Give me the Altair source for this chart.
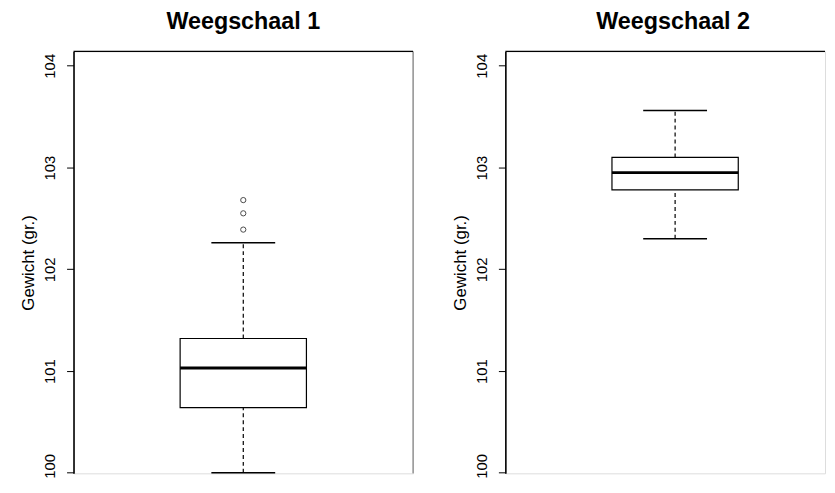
import altair as alt
import pandas as pd

# ---- data ----
scales = ["Weegschaal 1", "Weegschaal 2"]
lower_whisker = [100.00, 102.30]
q1 = [100.64, 102.78]
median = [101.03, 102.95]
q3 = [101.32, 103.10]
upper_whisker = [102.26, 103.56]
outliers_scale1 = [102.39, 102.55, 102.68]
y_ticks = [100, 101, 102, 103, 104]

FONT = "Liberation Sans"
Y_DOMAIN = [99.995, 104.141]
H = 425
W1 = 342
W2 = 322

stats = pd.DataFrame({
    "scale": scales, "lo": lower_whisker, "q1": q1, "med": median,
    "q3": q3, "hi": upper_whisker,
})
outl = pd.DataFrame({"scale": ["Weegschaal 1"] * len(outliers_scale1),
                     "v": outliers_scale1})


def panel(name, width, title_dx):
    xdom = [0, width / W1]
    xs = alt.Scale(domain=xdom, nice=False, zero=False, padding=0)
    ys = alt.Scale(domain=Y_DOMAIN, nice=False, zero=False, padding=0)
    yaxis = alt.Axis(values=y_ticks, format="d", title="Gewicht (gr.)",
                     labelAngle=270, labelAlign="center", labelBaseline="bottom",
                     labelOffset={"condition": {"test": "datum.value == 100", "value": -7},
                                  "value": 0},
                     labelFont=FONT, labelFontSize=15, labelColor="black",
                     labelPadding=9, tickSize=7, tickColor="black", tickWidth=1,
                     domainColor="black", domainWidth=1.6, grid=False,
                     titleFont=FONT, titleFontSize=17, titleFontWeight="normal",
                     titleColor="black", titlePadding=5)
    base = alt.Chart(stats).transform_filter(alt.datum.scale == name).transform_calculate(
        xc="0.5", xl="0.5 - 0.186", xr="0.5 + 0.186", cl="0.5 - 0.094", cr="0.5 + 0.094"
    )
    box = base.mark_rect(fill="white", stroke="black", strokeWidth=1.2).encode(
        x=alt.X("xl:Q", scale=xs, axis=None), x2="xr:Q",
        y=alt.Y("q1:Q", scale=ys, axis=yaxis), y2="q3:Q")
    med = base.mark_rule(color="black", strokeWidth=3).encode(
        x=alt.X("xl:Q", scale=xs, axis=None), x2="xr:Q",
        y=alt.Y("med:Q", scale=ys, axis=yaxis))
    wh_up = base.mark_rule(color="black", strokeWidth=1.2, strokeDash=[4, 3]).encode(
        x=alt.X("xc:Q", scale=xs, axis=None),
        y=alt.Y("q3:Q", scale=ys, axis=yaxis), y2="hi:Q")
    wh_lo = base.mark_rule(color="black", strokeWidth=1.2, strokeDash=[4, 3]).encode(
        x=alt.X("xc:Q", scale=xs, axis=None),
        y=alt.Y("lo:Q", scale=ys, axis=yaxis), y2="q1:Q")
    cap_up = base.mark_rule(color="black", strokeWidth=1.6).encode(
        x=alt.X("cl:Q", scale=xs, axis=None), x2="cr:Q",
        y=alt.Y("hi:Q", scale=ys, axis=yaxis))
    cap_lo = base.mark_rule(color="black", strokeWidth=1.6).encode(
        x=alt.X("cl:Q", scale=xs, axis=None), x2="cr:Q",
        y=alt.Y("lo:Q", scale=ys, axis=yaxis))
    top = base.mark_rule(color="black", strokeWidth=1.2).encode(
        x=alt.value(0), x2=alt.value(width), y=alt.value(0))
    layers = [top, box, med, wh_up, wh_lo, cap_up, cap_lo]
    if name == "Weegschaal 1":
        right = base.mark_rule(color="#666666", strokeWidth=1).encode(
            x=alt.value(width), y=alt.value(0), y2=alt.value(H))
        pts = alt.Chart(outl).transform_filter(alt.datum.scale == name).transform_calculate(
            xc="0.5").mark_point(shape="circle", filled=False, size=28,
                                 color="black", strokeWidth=1).encode(
            x=alt.X("xc:Q", scale=xs, axis=None),
            y=alt.Y("v:Q", scale=ys, axis=yaxis))
        layers = [right] + layers + [pts]
    return alt.layer(*layers).properties(
        width=width, height=H,
        title=alt.TitleParams(name, font=FONT, fontSize=23.5, fontWeight="bold",
                              color="black", offset=17, anchor="middle", dx=title_dx))


chart = alt.hconcat(panel("Weegschaal 1", W1, 0), panel("Weegschaal 2", W2, 8),
                    spacing=36).properties(
    padding={"left": 11, "top": 0, "right": 0, "bottom": 0}
).configure_view(stroke=None).configure(background="white")

chart.save("out.html", embed_options={"renderer": "svg", "actions": False})
